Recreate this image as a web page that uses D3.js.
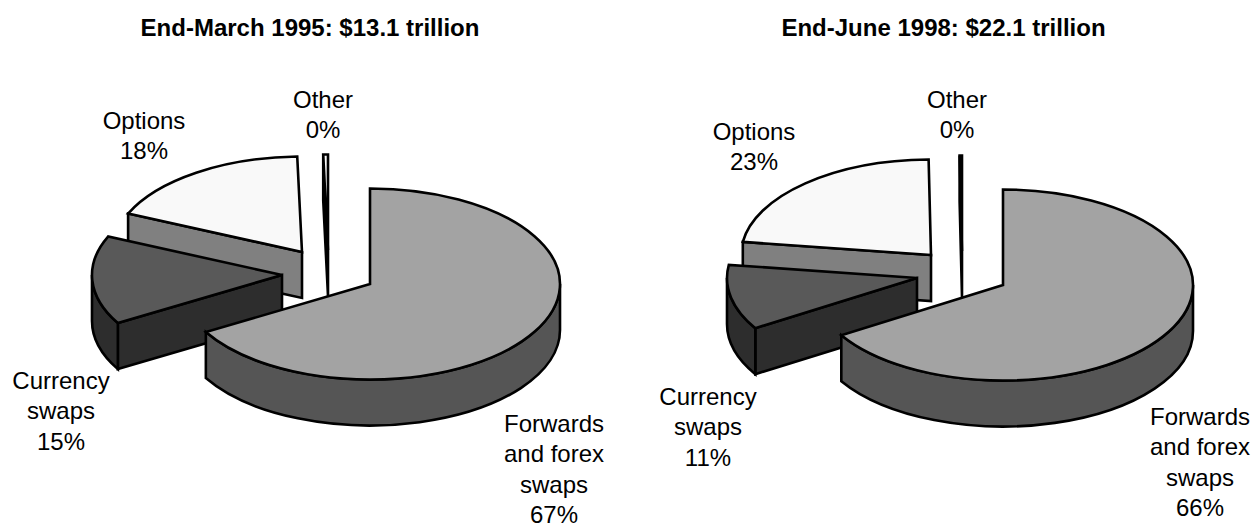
<!DOCTYPE html>
<html>
<head>
<meta charset="utf-8">
<script src="https://cdn.jsdelivr.net/npm/d3@7"></script>
<style>
  html, body { margin: 0; padding: 0; background: #fff; }
  svg { display: block; }
  text { font-family: "Liberation Sans", Arial, sans-serif; fill: #000; }
</style>
</head>
<body>
<svg id="chart" width="1252" height="523"></svg>
<script>
// Instrument categories shared by both survey dates, in drawing order round the pie.
const categories = ["Forwards and forex swaps", "Currency swaps", "Options", "Other"];
const titles = ["End-March 1995: $13.1 trillion", "End-June 1998: $22.1 trillion"];
const shares1995 = [66.6, 15.0, 18.0, 0.4];
const shares1998 = [66.2, 11.0, 22.6, 0.2];

// Label lines per category; the percentage is appended from the data.
const labelLines = [["Forwards", "and forex", "swaps"], ["Currency", "swaps"], ["Options"], ["Other"]];

// Face colours per category: top face, radial wall, rim wall.
const topFill = ["#a3a3a3", "#595959", "#f9f9f9", "#f9f9f9"];
const wallFill = ["#555555", "#2d2d2d", "#808080", "#808080"];

// Ellipse radii and extrusion depth of every pie.
const RX = 190, RY = 95.5, DEPTH = 46;

// Where each exploded slice's apex sits, and where its label goes.
const layouts = [
  {
    titleX: 310,
    apex: [[370, 284], [282, 275], [302, 252], [328, 250]],
    labels: [[554, 432], [61, 389], [144, 129], [323, 108]]
  },
  {
    titleX: 943.5,
    apex: [[1003, 285], [917, 278], [931, 255], [962, 251]],
    labels: [[1200, 425], [708, 405], [754, 140], [957, 108]]
  }
];

const svg = d3.select("#chart");
const pie = d3.pie().sort(null).startAngle(0).endAngle(2 * Math.PI);
const percent = d3.format(".0f");

// Point on a slice's rim, measured clockwise from twelve o'clock.
const rim = (c, a, dy = 0) => [c[0] + RX * Math.sin(a), c[1] - RY * Math.cos(a) + dy];

function topFace(c, a0, a1) {
  const p = d3.path();
  const [x0, y0] = rim(c, a0), [x1, y1] = rim(c, a1);
  p.moveTo(c[0], c[1]);
  p.lineTo(x0, y0);
  return `${p} A${RX},${RY} 0 ${a1 - a0 > Math.PI ? 1 : 0} 1 ${x1},${y1} Z`;
}

// Curved outer wall, limited to the half of the ellipse that faces the viewer.
function rimWall(c, a0, a1) {
  const s = Math.max(a0, Math.PI / 2), e = Math.min(a1, 3 * Math.PI / 2);
  if (e <= s) return null;
  const [x0, y0] = rim(c, s), [x1, y1] = rim(c, e);
  const [x2, y2] = rim(c, e, DEPTH), [x3, y3] = rim(c, s, DEPTH);
  return `M${x0},${y0} A${RX},${RY} 0 0 1 ${x1},${y1} L${x2},${y2} A${RX},${RY} 0 0 0 ${x3},${y3} Z`;
}

// Flat wall under the radial edge at angle a.
function radialWall(c, a) {
  const line = d3.line();
  const [x, y] = rim(c, a);
  return line([c, [x, y], [x, y + DEPTH], [c[0], c[1] + DEPTH]]) + "Z";
}

function drawPie(shares, layout, title) {
  const slices = pie(shares);
  const g = svg.append("g");

  // Back slices first, the large slice last so it overlaps the others.
  [3, 2, 1, 0].forEach(i => {
    const d = slices[i], c = layout.apex[i];
    const s = g.append("g").attr("stroke", "#000").attr("stroke-width", 2.6).attr("stroke-linejoin", "miter");
    if (i !== 0) s.append("path").attr("d", radialWall(c, d.startAngle)).attr("fill", wallFill[i]);
    const wall = rimWall(c, d.startAngle, d.endAngle);
    if (wall) s.append("path").attr("d", wall).attr("fill", wallFill[i]);
    s.append("path").attr("d", topFace(c, d.startAngle, d.endAngle)).attr("fill", topFill[i]);
  });

  g.append("text")
    .attr("x", layout.titleX).attr("y", 36)
    .attr("text-anchor", "middle")
    .attr("font-size", 24).attr("font-weight", "bold")
    .text(title);

  categories.forEach((_, i) => {
    const lines = labelLines[i].concat(percent(shares[i]) + "%");
    const t = g.append("text").attr("text-anchor", "middle").attr("font-size", 24);
    lines.forEach((ln, k) => {
      t.append("tspan")
        .attr("x", layout.labels[i][0])
        .attr("y", layout.labels[i][1] + k * 30.3)
        .text(ln);
    });
  });
}

drawPie(shares1995, layouts[0], titles[0]);
drawPie(shares1998, layouts[1], titles[1]);
</script>
</body>
</html>
